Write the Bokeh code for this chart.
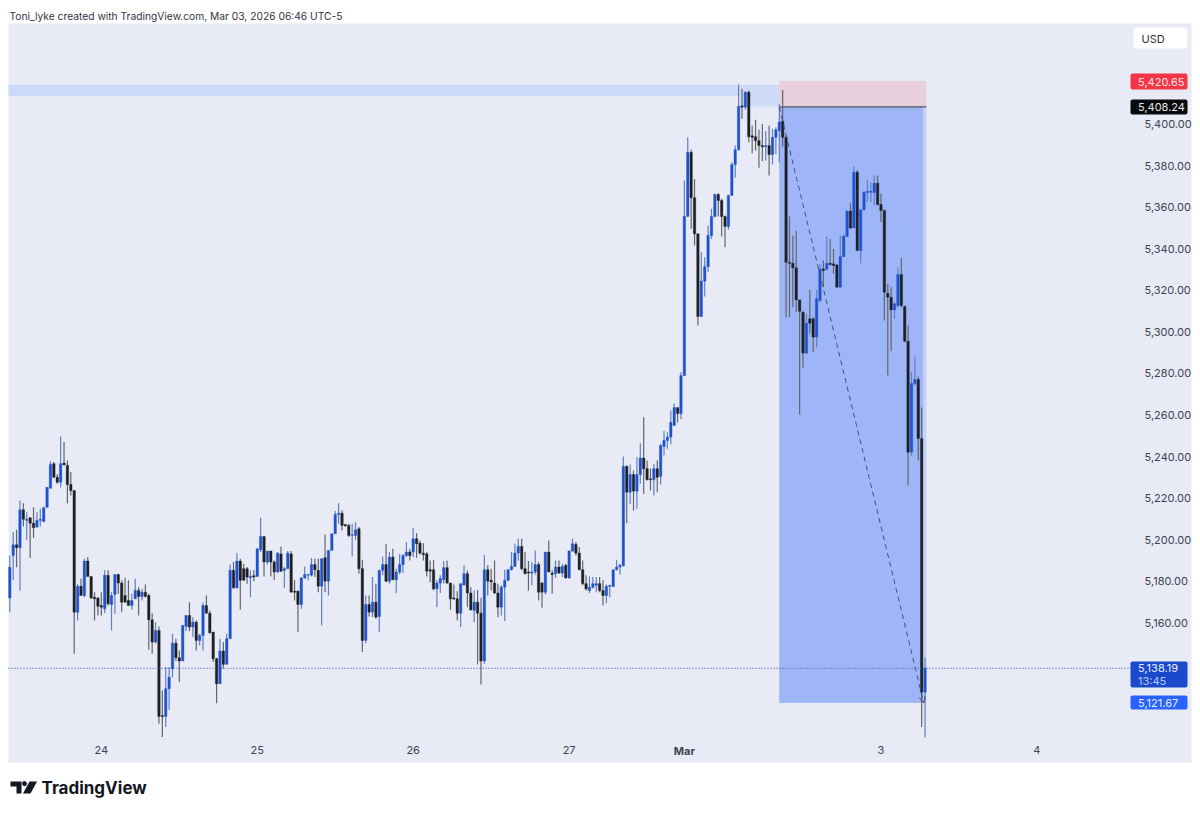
from bokeh.embed import file_html
from bokeh.models import (Arrow, BoxAnnotation, ColumnDataSource, FixedTicker, Label, LinearAxis,
                          NumeralTickFormatter, OpenHead, PolyAnnotation, Range1d)
from bokeh.plotting import figure
from bokeh.resources import INLINE

opens = [
    5172.0,5192.4,5197.6,5196.2,5214.4,5209.3,5210.6,5208.0,5206.1,5209.3,
    5208.8,5215.7,5224.8,5236.6,5230.1,5227.7,5236.9,5235.8,5226.6,5223.7,
    5165.2,5177.6,5173.2,5189.8,5182.4,5172.4,5172.0,5168.4,5166.8,5182.9,
    5168.9,5173.7,5183.3,5179.2,5173.2,5170.8,5168.4,5171.6,5175.6,5172.7,
    5174.8,5173.2,5161.5,5150.8,5156.4,5115.5,5115.0,5128.3,5138.0,5150.3,
    5143.3,5141.7,5158.3,5163.6,5158.0,5160.4,5151.6,5154.0,5168.4,5164.7,
    5155.6,5142.8,5130.8,5146.5,5140.1,5152.4,5185.3,5176.9,5189.8,5186.1,
    5186.1,5181.7,5182.7,5182.4,5195.2,5201.6,5189.3,5194.6,5189.3,5184.5,
    5193.2,5185.3,5186.1,5193.2,5175.3,5175.3,5168.9,5181.6,5183.0,5183.0,
    5188.1,5185.3,5177.7,5191.4,5180.1,5194.9,5202.9,5212.2,5212.8,5207.4,
    5206.9,5202.1,5202.1,5205.3,5186.1,5151.6,5168.9,5165.2,5170.0,5163.1,
    5185.3,5188.1,5180.1,5191.7,5180.8,5184.5,5188.1,5192.4,5194.1,5194.1,
    5200.5,5198.4,5193.6,5193.2,5185.6,5185.6,5176.4,5179.2,5180.8,5186.6,
    5179.2,5172.0,5171.6,5164.7,5178.2,5183.7,5174.4,5166.0,5170.0,5164.7,
    5141.7,5185.6,5180.5,5179.2,5174.4,5167.6,5177.2,5180.5,5185.6,5187.2,
    5193.6,5196.8,5186.1,5184.5,5184.0,5184.5,5188.1,5179.2,5174.8,5194.1,
    5184.0,5183.7,5186.9,5184.0,5187.7,5181.7,5194.6,5197.8,5193.6,5185.6,
    5178.9,5175.6,5177.2,5178.1,5178.9,5175.6,5173.2,5177.6,5177.6,5185.6,
    5186.9,5187.5,5235.3,5222.9,5231.4,5223.4,5231.4,5239.3,5234.2,5229.3,
    5228.9,5234.2,5230.5,5244.9,5247.8,5249.4,5255.0,5263.6,5260.7,5279.0,
    5355.6,5386.4,5364.5,5347.2,5307.4,5324.4,5331.4,5346.4,5355.5,5366.1,
    5363.2,5355.5,5350.7,5365.6,5380.5,5387.6,5408.7,5408.1,5415.3,5394.3,
    5393.9,5392.0,5389.6,5389.1,5389.6,5385.3,5393.6,5396.8,5401.3,5393.6,
    5333.5,5333.0,5330.8,5315.4,5309.5,5289.8,5306.3,5306.3,5297.5,5315.1,
    5330.3,5330.2,5333.0,5332.7,5332.2,5321.5,5336.2,5345.9,5358.1,5350.0,
    5376.8,5339.1,5358.7,5367.0,5367.2,5367.0,5371.5,5361.3,5358.4,5318.6,
    5316.7,5310.6,5312.7,5327.6,5312.2,5295.5,5242.1,5275.1,5277.1,5248.7,5126.7,
]
highs = [
    5192.4,5203.7,5204.8,5218.9,5217.6,5213.3,5210.9,5215.7,5213.3,5214.9,
    5216.0,5225.3,5237.8,5237.4,5231.7,5249.7,5247.0,5238.2,5232.6,5223.7,
    5178.9,5181.3,5190.9,5191.7,5182.4,5174.8,5172.4,5174.8,5185.3,5185.3,
    5174.8,5183.3,5183.7,5180.5,5181.7,5180.5,5174.0,5181.3,5177.2,5176.4,
    5178.5,5174.0,5164.7,5160.4,5158.3,5127.5,5138.8,5138.8,5154.8,5152.4,
    5146.8,5158.8,5163.6,5170.0,5162.8,5161.2,5154.8,5170.0,5173.2,5166.0,
    5155.6,5143.3,5152.4,5150.8,5154.8,5188.1,5189.3,5193.6,5190.9,5188.5,
    5186.9,5185.3,5185.3,5195.7,5210.6,5201.6,5194.6,5194.6,5190.1,5194.1,
    5196.8,5186.9,5194.6,5194.6,5180.7,5175.6,5182.1,5187.2,5183.7,5191.3,
    5190.9,5190.9,5190.9,5202.6,5194.9,5202.9,5213.8,5217.6,5214.1,5207.4,
    5207.7,5207.7,5208.5,5206.1,5190.4,5173.2,5173.2,5182.1,5178.9,5185.6,
    5192.0,5198.1,5194.1,5195.7,5186.1,5193.2,5193.2,5198.9,5195.7,5205.8,
    5203.2,5199.7,5198.4,5194.1,5190.1,5190.4,5180.5,5182.9,5189.8,5190.1,
    5179.2,5178.5,5175.3,5178.9,5187.7,5185.3,5177.2,5175.6,5175.9,5172.1,
    5192.8,5187.7,5186.1,5190.1,5178.9,5178.1,5185.6,5185.6,5194.1,5198.1,
    5200.5,5200.5,5194.1,5189.8,5189.3,5194.9,5189.3,5179.7,5194.1,5199.7,
    5185.3,5190.1,5190.1,5188.5,5188.5,5194.9,5200.5,5198.9,5196.5,5190.1,
    5182.9,5182.4,5182.1,5182.1,5182.1,5180.7,5178.5,5178.1,5185.6,5190.4,
    5188.5,5240.1,5235.8,5236.2,5233.3,5239.8,5246.5,5259.0,5238.2,5234.2,
    5236.6,5238.2,5246.2,5252.3,5251.8,5262.2,5265.5,5263.6,5280.6,5372.8,
    5393.6,5387.6,5373.6,5347.2,5338.3,5335.9,5351.2,5359.2,5366.4,5366.7,
    5364.0,5356.0,5366.1,5381.6,5389.6,5419.0,5416.9,5415.8,5416.1,5399.2,
    5402.0,5397.2,5400.0,5396.5,5399.2,5397.6,5398.4,5409.7,5416.4,5394.4,
    5355.5,5346.4,5348.7,5315.4,5309.9,5308.7,5320.2,5307.1,5320.2,5332.7,
    5334.3,5345.9,5344.7,5339.9,5332.7,5346.4,5347.2,5358.4,5361.9,5379.5,
    5377.9,5358.7,5367.7,5373.1,5372.0,5375.2,5375.2,5366.4,5358.7,5323.1,
    5321.5,5314.3,5331.1,5335.6,5312.7,5303.1,5280.6,5288.1,5278.5,5263.6,5143.3,
]
lows = [
    5165.2,5180.7,5186.8,5175.6,5206.4,5200.0,5191.3,5201.0,5205.8,5206.4,
    5208.5,5215.4,5224.8,5229.8,5226.9,5225.3,5235.8,5217.6,5221.3,5145.2,
    5161.2,5173.2,5172.4,5182.4,5171.6,5161.2,5163.6,5163.6,5164.7,5168.4,
    5156.4,5164.4,5174.0,5165.2,5170.0,5168.4,5166.3,5171.6,5163.6,5170.8,
    5172.4,5147.1,5145.2,5150.3,5111.5,5105.1,5109.9,5118.2,5133.9,5141.7,
    5131.6,5141.7,5156.1,5156.1,5153.2,5146.8,5149.2,5146.8,5164.7,5154.8,
    5141.2,5121.4,5130.8,5138.0,5140.1,5152.4,5176.4,5176.4,5166.3,5180.5,
    5178.9,5172.4,5180.1,5182.1,5194.1,5182.4,5188.1,5182.4,5180.7,5184.0,
    5184.5,5176.9,5186.1,5174.8,5170.8,5155.6,5166.8,5181.3,5180.5,5182.4,
    5182.1,5174.8,5158.8,5174.8,5173.2,5194.9,5202.9,5207.7,5204.5,5206.4,
    5201.3,5192.0,5200.0,5183.7,5146.0,5150.3,5163.1,5162.8,5162.0,5155.6,
    5182.9,5179.6,5178.9,5180.5,5174.4,5183.3,5184.0,5191.7,5190.1,5191.7,
    5191.3,5192.9,5190.1,5182.4,5179.6,5175.6,5167.6,5174.4,5178.9,5178.9,
    5166.3,5171.3,5161.2,5158.0,5178.1,5167.6,5166.0,5160.4,5140.1,5130.4,
    5140.4,5173.2,5175.6,5174.0,5162.8,5163.6,5160.9,5180.1,5185.3,5186.9,
    5190.1,5185.3,5183.3,5175.6,5178.1,5183.3,5170.8,5167.3,5173.7,5184.5,
    5174.0,5181.7,5183.7,5182.1,5181.3,5181.3,5194.1,5192.5,5185.3,5178.1,
    5175.6,5174.4,5176.4,5174.8,5174.8,5168.4,5169.5,5172.4,5177.2,5185.3,
    5183.3,5187.2,5208.0,5217.3,5214.1,5214.9,5226.9,5222.1,5228.5,5223.7,
    5221.3,5222.9,5226.6,5240.6,5243.8,5246.0,5254.9,5256.4,5258.0,5279.0,
    5355.2,5349.6,5341.5,5303.1,5307.4,5317.0,5328.7,5344.7,5355.2,5355.5,
    5345.9,5340.7,5349.1,5365.6,5374.1,5387.2,5402.5,5406.8,5391.2,5385.9,
    5387.2,5378.9,5382.1,5382.4,5375.2,5380.5,5385.6,5381.6,5389.1,5307.1,
    5307.1,5311.9,5309.5,5260.3,5282.7,5289.4,5299.1,5290.2,5292.6,5314.3,
    5321.5,5329.5,5331.9,5327.9,5321.5,5321.5,5336.2,5345.5,5349.6,5350.0,
    5339.1,5333.0,5358.4,5362.4,5362.4,5360.8,5360.8,5352.8,5305.5,5279.0,
    5290.7,5306.3,5311.9,5311.9,5295.0,5226.1,5240.5,5274.2,5238.1,5110.0,5104.9,
]
closes = [
    5186.8,5197.6,5196.2,5214.4,5209.9,5209.9,5208.0,5205.8,5209.3,5209.9,
    5215.4,5225.3,5236.2,5230.1,5227.7,5236.6,5236.0,5226.6,5223.7,5165.2,
    5177.6,5173.2,5189.8,5182.4,5172.0,5171.6,5168.0,5167.6,5182.9,5169.2,
    5173.2,5183.3,5179.2,5170.0,5170.0,5168.4,5170.8,5175.6,5172.7,5174.8,
    5172.7,5161.5,5150.8,5156.4,5115.0,5115.0,5128.3,5133.9,5150.3,5143.3,
    5141.7,5158.8,5163.6,5158.0,5160.4,5151.6,5154.0,5168.4,5164.7,5155.3,
    5142.8,5130.8,5146.5,5140.1,5152.4,5185.3,5176.9,5189.8,5180.5,5180.5,
    5182.1,5182.4,5182.1,5195.7,5201.6,5189.3,5194.6,5189.3,5184.5,5193.6,
    5184.9,5186.1,5193.6,5174.8,5174.8,5168.9,5181.6,5183.3,5183.3,5188.1,
    5185.6,5177.7,5190.9,5180.1,5194.9,5202.9,5212.2,5212.8,5206.9,5206.7,
    5202.1,5202.4,5204.8,5186.1,5151.6,5168.9,5165.2,5170.0,5162.8,5185.3,
    5188.1,5180.1,5191.7,5180.8,5184.5,5188.1,5192.4,5194.1,5192.4,5200.5,
    5198.1,5193.6,5192.9,5184.9,5184.9,5176.4,5179.2,5181.3,5186.6,5179.2,
    5171.6,5171.5,5164.7,5178.9,5183.7,5174.4,5166.3,5170.0,5164.7,5141.7,
    5185.6,5180.1,5179.7,5174.4,5167.6,5177.2,5180.5,5185.6,5187.2,5193.6,
    5196.8,5186.1,5183.7,5184.0,5184.5,5188.1,5174.8,5174.8,5194.1,5184.5,
    5183.3,5186.9,5184.0,5187.2,5181.7,5194.6,5198.1,5193.6,5185.6,5178.9,
    5176.4,5177.2,5178.9,5178.9,5175.6,5173.2,5177.6,5178.1,5185.6,5186.9,
    5187.7,5235.3,5222.9,5231.4,5223.4,5231.4,5239.3,5234.2,5228.9,5228.9,
    5234.2,5230.1,5245.4,5247.8,5249.4,5256.5,5263.6,5260.7,5279.0,5355.6,
    5386.4,5364.5,5347.2,5307.4,5324.4,5331.4,5346.4,5355.5,5366.1,5363.2,
    5355.5,5350.7,5365.6,5380.5,5387.6,5408.4,5408.1,5415.3,5393.9,5393.6,
    5392.0,5389.6,5389.0,5389.6,5385.3,5393.6,5397.2,5400.9,5393.6,5333.5,
    5333.0,5330.8,5315.4,5309.9,5289.8,5304.2,5304.2,5297.5,5315.9,5330.3,
    5329.5,5333.0,5332.4,5331.9,5321.5,5336.2,5346.0,5358.1,5350.0,5376.8,
    5339.1,5358.7,5367.2,5367.7,5367.7,5371.5,5361.3,5358.4,5319.1,5316.7,
    5310.6,5313.5,5327.6,5312.7,5295.5,5242.1,5275.1,5277.1,5248.7,5126.7,5138.19,
]

# day labels sit on these bar numbers, "Mar" is bold so it gets its own axis
day_ticks = [27, 73, 119, 165, 257, 303]
day_labels = ["24", "25", "26", "27", "3", "4"]
month_ticks = [199]
month_labels = ["Mar"]
price_ticks = list(range(5160, 5401, 20))

stop_price = 5420.65
entry_price = 5408.24
last_price = 5138.19
target_price = 5121.67
zone_top = 5418.9
zone_bottom = 5413.6

FONT = "Inter"
UP = "#1f52cc"
DOWN = "#1e2026"
TEXT = "#3f4352"

# the frame fills the whole page, the pale chart panel is a quad inside it
p = figure(width=1192, height=805, output_backend="svg", toolbar_location=None,
           x_axis_type=None, y_axis_type=None,
           x_range=Range1d(-2.743, 348.9), y_range=Range1d(5072.2, 5459.4),
           min_border_left=0, min_border_right=0, min_border_top=0, min_border_bottom=0)
p.background_fill_color = "white"
p.border_fill_color = "white"
p.outline_line_color = None
p.grid.visible = False

p.quad(left=[-0.38], right=[348.6], top=[5448.3], bottom=[5092.8], fill_color="#e8ebf6", line_color=None)

# supply zone and the short position box
p.quad(left=[-0.38], right=[215.5], top=[zone_top], bottom=[zone_bottom], fill_color="#cbdafa", line_color=None)
p.quad(left=[215.5], right=[227], top=[zone_top], bottom=[entry_price], fill_color="#d0dcf7", line_color=None)
p.quad(left=[227], right=[270.4], top=[stop_price], bottom=[entry_price], fill_color="#e8cfdc", line_color=None)
p.quad(left=[227], right=[270.4], top=[entry_price], bottom=[target_price], fill_color="#c4d2f6", line_color=None)
p.quad(left=[227], right=[269.4], top=[entry_price], bottom=[target_price], fill_color="#9eb6f7", line_color=None)
p.segment(x0=[227], x1=[270.4], y0=[entry_price], y1=[entry_price], line_color="#55565c", line_width=1.2)

bars = list(range(len(closes)))
is_up = [c >= o for o, c in zip(opens, closes)]
source = ColumnDataSource(dict(
    x=bars,
    high=highs,
    low=lows,
    top=[max(o, c) for o, c in zip(opens, closes)],
    bottom=[min(o, c) for o, c in zip(opens, closes)],
    body=[UP if u else DOWN for u in is_up],
    wick=["#5f7fc6" if u else "#63656c" for u in is_up],
))
p.segment(x0="x", x1="x", y0="high", y1="low", line_color="wick", line_width=1.2, source=source)
p.vbar(x="x", width=0.72, top="top", bottom="bottom", fill_color="body", line_color="body",
       line_width=0.4, source=source)

# forecast line from entry down to target
p.line(x=[227, 269.6], y=[entry_price, target_price], line_color="#465078", line_width=1, line_dash=[5, 4])
p.add_layout(Arrow(end=OpenHead(size=6, line_color="#3a4468", line_width=1), x_start=268.6, y_start=5128,
                   x_end=269.6, y_end=target_price, line_color="#3a4468", line_width=1, line_alpha=0))

# last price line stops where the price tags start
p.line(x=[-0.38, 330.8], y=[last_price, last_price], line_color="#2b4fa8", line_width=1, line_dash=[1, 2])


def style_axis(axis, size="11px"):
    axis.axis_line_color = None
    axis.major_tick_line_color = None
    axis.minor_tick_line_color = None
    axis.major_label_text_color = TEXT
    axis.major_label_text_font = FONT
    axis.major_label_text_font_size = size


y_axis = LinearAxis(fixed_location=332.4, ticker=FixedTicker(ticks=price_ticks),
                    formatter=NumeralTickFormatter(format="0,0.00"), major_label_standoff=2)
style_axis(y_axis)
p.add_layout(y_axis, "right")

x_axis = LinearAxis(fixed_location=5105.3, ticker=FixedTicker(ticks=day_ticks),
                    major_label_overrides=dict(zip(day_ticks, day_labels)), major_label_standoff=3)
style_axis(x_axis)
p.add_layout(x_axis, "below")

month_axis = LinearAxis(fixed_location=5105.3, ticker=FixedTicker(ticks=month_ticks),
                        major_label_overrides=dict(zip(month_ticks, month_labels)), major_label_standoff=1)
style_axis(month_axis)
month_axis.major_label_text_font_style = "bold"
p.add_layout(month_axis, "below")


def tag(left, right, top, bottom, fill, radius=2):
    p.add_layout(BoxAnnotation(left=left, right=right, top=top, bottom=bottom, left_units="canvas",
                               right_units="canvas", top_units="canvas", bottom_units="canvas",
                               fill_color=fill, fill_alpha=1, line_color=None, border_radius=radius))


def text(x, y, value, color=TEXT, size="11px", style="normal"):
    p.add_layout(Label(x=x, y=y, x_units="canvas", y_units="canvas", text=value, text_color=color,
                       text_font=FONT, text_font_size=size, text_font_style=style,
                       text_baseline="middle", text_align="left"))


tag(1130, 1187, 73, 89, "#f23645")
tag(1130, 1187, 99, 114, "#08090c")
tag(1130, 1187, 661, 687, "#1a4acb")
tag(1130, 1187, 695, 709, "#2962ff")
tag(1133, 1187, 27, 48, "white", 4)

text(1137.5, 81, "5,420.65", "#ffe3e5")
text(1137.5, 106.5, "5,408.24", "#e8e8e8")
text(1137.5, 667, "5,138.19", "#e6ecff")
text(1137.5, 680, "13:45", "#b8c8f4")
text(1137.5, 702, "5,121.67", "#e6ecff")
text(1141, 38, "USD", "#2e3240")

text(9, 15, "Toni_lyke created with TradingView.com, Mar 03, 2026 06:46 UTC-5", "#30343f", "10.25px")

# logo
for xs, ys in [
    ([10, 21, 21, 16, 16, 10], [781, 781, 793, 793, 786, 786]),
    ([29, 36.5, 30, 22.5], [781, 781, 793, 793]),
    ([22.2, 24.2, 25.8, 26.5, 25.8, 24.2, 22.2, 21.5],
     [781, 780.6, 781.4, 783.2, 785, 785.8, 785, 783.2]),
]:
    p.add_layout(PolyAnnotation(xs=xs, ys=ys, xs_units="canvas", ys_units="canvas", fill_color="#131722",
                                fill_alpha=1, line_color=None))
text(41, 787, "TradingView", "#131722", "17px", "bold")

open("out.html", "w").write(file_html(p, INLINE))
